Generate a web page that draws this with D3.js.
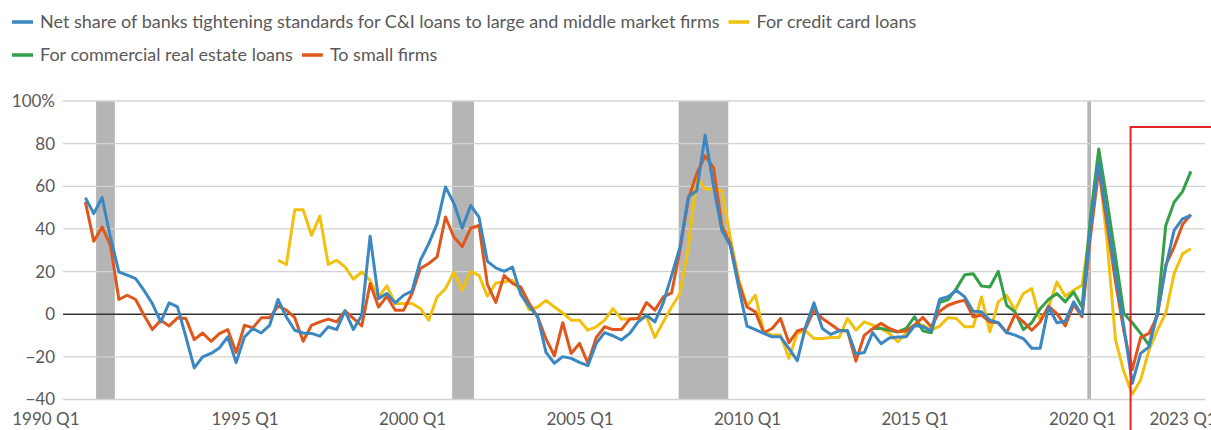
<!DOCTYPE html>
<html>
<head>
<meta charset="utf-8">
<script src="https://cdn.jsdelivr.net/npm/d3@7"></script>
<style>
  html, body { margin: 0; padding: 0; background: #fff; }
  svg { display: block; }
  text { font-family: "Source Sans Pro", Lato, "Noto Sans", sans-serif; fill: #595959; }
</style>
</head>
<body>
<svg id="chart" width="1211" height="430"></svg>
<script>
// ---- Data (net % of banks tightening standards), quarterly ----
const firstQuarter = 1990.25;           // 1990 Q2
const ciLarge = [54.7,47.2,54.7,36,19.8,18.3,16.7,11.2,5,-3.6,5.3,3.4,-10.6,-25.2,-20,-18.4,-15.8,-10.6,-22.7,-10.6,
  -6.7,-8.8,-5.2,6.9,-1.3,-7.5,-8.8,-9,-10.3,-5.9,-7.2,1.6,-7.2,-0.5,36.6,7.3,9.7,5.3,8.9,10.8,
  25.3,33.1,42.5,59.7,52,40.3,51,45.5,24.8,21.7,20.1,22.1,9.2,3.7,-1.2,-17.9,-23,-19.9,-20.7,-22.6,
  -24.1,-13.7,-8.6,-10.1,-12.1,-9,-3.6,-0.5,-3.6,5.3,18.2,31.5,55.1,57.9,84,60.3,39.3,32.2,12.8,-5.6,
  -7.2,-9,-10.6,-10.6,-16,-21.8,-5.9,5.3,-6.7,-9.5,-7.8,-7.8,-18.7,-18,-8.6,-13.8,-11.2,-10.7,-10.6,-5.4,
  -5.8,-7.8,7,8.2,11.2,8.1,1.4,1.1,-2.8,-4,-8.6,-9.8,-11.4,-16,-16,3.4,-4,-3.3,5.8,-0.5,
  40,71.2,45,19,-6,-32.4,-18.4,-15.3,0.3,22.1,39.3,44.7,46.3];
const smallFirms = [52.7,34.2,40.9,32.3,6.9,8.9,6.9,-0.5,-7.2,-2.8,-5.5,-1.7,-2,-11.9,-8.8,-12.7,-9.1,-7.2,-18,-5.2,
  -6.4,-1.7,-1.7,3.8,1.9,-1.6,-12.7,-5.2,-3.6,-2.3,-3.6,1.6,-2,-5.5,14.4,3.4,8.4,1.9,1.9,9.7,
  21.4,23.8,26.9,45.6,36.2,31.7,40.3,41.6,14,5.5,18.2,14.5,12.7,5,-1.2,-11.6,-19.5,-4,-18.4,-13.7,
  -23,-10.9,-5.9,-7.2,-7.2,-2.3,-2,5.5,1.9,8.1,10,30.2,54,66,74.3,68.8,41.6,33,14.8,3.4,
  1.1,-8.7,-6.7,-2,-13.4,-7.9,-6.7,1.9,-2,-4.7,-7.5,-7.8,-22,-9.9,-6.8,-4.3,-6.7,-8.2,-7.9,-5.1,
  -1.5,-5.9,1.4,4.2,5.6,6.6,-1.2,-0.5,-3.6,-4,-8.7,-0.2,-3.6,-7.5,-3.6,3.8,0.3,-5.5,4.6,-1.2,
  36,68,42,15,-8,-26,-11,-9,-0.8,23,31.5,42,46.8];
const creditCardStart = 1996.0;          // 1996 Q1
const creditCard = [25.3,23.3,49,49,37,46,23.3,25.3,22.2,16.4,19.8,15.9,8.1,13.3,5,5,5,2.7,-2.8,8.1,
  12,19.8,11.2,20.1,18.2,8.4,14.6,15.1,15.9,10.4,2,3.4,6.5,3.4,0.6,-2.8,-2.8,-7.5,-5.9,-2.8,
  2.6,-2.3,-2.3,-2,-1.2,-10.9,-3.6,3.4,9.7,31.5,64.2,58.7,58.7,57.9,36.1,16.5,3.7,8.9,-8.3,-9.8,
  -9.8,-20.7,-9,-7.8,-11.4,-11.4,-10.9,-10.9,-2,-7.5,-3.6,-5.1,-6.7,-9,-12.9,-9,-5.1,-5.1,-7.5,-5.6,
  -1.6,-2,-5.9,-5.9,8.1,-8.3,5.8,8.9,1.9,9.7,12,-2.8,3.4,15.1,8.4,11.2,13.6,40,70,34,
  -12,-27,-37.5,-30.8,-16.8,-7.5,0.5,19,28.3,30.7];
const creStart = 2013.75;                // 2013 Q4
const cre = [-6.7,-6.7,-7.5,-8.3,-6.7,-1.2,-7.8,-8.7,5.6,6.7,12,18.5,19,13.2,12.8,20.1,4.2,1.1,-7.2,-4,
  2.6,6.9,9.7,5.8,10.4,3.4,45,77.5,53,27,0.3,-4,-9,-14.5,1,41.6,52.5,57.5,67];

const recessions = [[1990.57, 1991.13], [2001.20, 2001.85], [2007.96, 2009.44], [2020.16, 2020.27]];
const yTicks = [-40, -20, 0, 20, 40, 60, 80, 100];
const xTickYears = [1990, 1995, 2000, 2005, 2010, 2015, 2020, 2023];
const highlightFrom = 2021.45;

const seriesNames = ["Net share of banks tightening standards for C&I loans to large and middle market firms",
  "For credit card loans", "For commercial real estate loans", "To small firms"];
const colors = { ci: "#3b87c2", cc: "#f2c00f", cre: "#35a04a", small: "#e0571b" };

// ---- Scales ----
const svg = d3.select("#chart");
const x = d3.scaleLinear().domain([1990, 2023]).range([77, 1182.5]);
const y = d3.scaleLinear().domain([-40, 100]).range([399.5, 101]);
const gridLeft = 63, gridRight = 1205;

const toPoints = (arr, start) => arr.map((v, i) => ({ t: start + i * 0.25, v }));

// recession bands
svg.append("g").selectAll("rect").data(recessions).join("rect")
  .attr("x", d => x(d[0])).attr("width", d => x(d[1]) - x(d[0]))
  .attr("y", y(100)).attr("height", y(-40) - y(100))
  .attr("fill", "#b5b5b5");

// gridlines
svg.append("g").selectAll("line").data(yTicks.filter(v => v !== 0)).join("line")
  .attr("x1", gridLeft).attr("x2", gridRight)
  .attr("y1", d => y(d)).attr("y2", d => y(d))
  .attr("stroke", "#d3d3d3").attr("stroke-width", 1.3);

// y axis labels
const yAxis = d3.axisLeft(y).tickValues(yTicks).tickSize(0).tickPadding(0)
  .tickFormat(d => d === 100 ? "100%" : (d < 0 ? "\u2212" + Math.abs(d) : String(d)));
const gy = svg.append("g").attr("transform", "translate(55,0)").call(yAxis);
gy.select(".domain").remove();
gy.selectAll("text").attr("font-size", 17).attr("fill", "#595959")
  .style("font-family", '"Source Sans Pro", Lato, sans-serif');

// x axis labels
const xAxis = d3.axisBottom(x).tickValues(xTickYears).tickSize(0).tickPadding(0)
  .tickFormat(d => d + " Q1");
const gx = svg.append("g").attr("transform", "translate(0,413)").call(xAxis);
gx.select(".domain").remove();
gx.selectAll("text").attr("font-size", 17).attr("fill", "#595959")
  .style("font-family", '"Source Sans Pro", Lato, sans-serif');
gx.selectAll(".tick").filter(d => d === 1990).select("text")
  .attr("text-anchor", "end").attr("dx", 2);

// zero line
svg.append("line").attr("x1", gridLeft).attr("x2", gridRight)
  .attr("y1", y(0)).attr("y2", y(0)).attr("stroke", "#333").attr("stroke-width", 1.4);

// lines
const line = d3.line().x(d => x(d.t)).y(d => y(d.v));
const series = [
  { data: toPoints(smallFirms, firstQuarter), color: colors.small },
  { data: toPoints(creditCard, creditCardStart), color: colors.cc },
  { data: toPoints(cre, creStart), color: colors.cre },
  { data: toPoints(ciLarge, firstQuarter), color: colors.ci },
];
// draw order: yellow, green, orange, blue
[series[1], series[2], series[0], series[3]].forEach(s => {
  svg.append("path").datum(s.data).attr("d", line)
    .attr("fill", "none").attr("stroke", s.color).attr("stroke-width", 3)
    .attr("stroke-linejoin", "round");
});

// highlight box
svg.append("rect").attr("x", x(highlightFrom)).attr("y", 127)
  .attr("width", 200).attr("height", 400)
  .attr("fill", "none").attr("stroke", "#e3242b").attr("stroke-width", 2);

// legend
const legendItems = [
  { name: seriesNames[0], color: colors.ci, row: 0 },
  { name: seriesNames[1], color: colors.cc, row: 0 },
  { name: seriesNames[2], color: colors.cre, row: 1 },
  { name: seriesNames[3], color: colors.small, row: 1 },
];
const rowY = [22, 55];
const rowX = [12, 12];
legendItems.forEach(it => {
  const g = svg.append("g");
  const x0 = rowX[it.row];
  g.append("line").attr("x1", x0).attr("x2", x0 + 21)
    .attr("y1", rowY[it.row]).attr("y2", rowY[it.row])
    .attr("stroke", it.color).attr("stroke-width", 3.5);
  const t = g.append("text").attr("x", x0 + 28).attr("y", rowY[it.row])
    .attr("dy", "0.35em").attr("font-size", 18).attr("fill", "#595959").text(it.name);
  rowX[it.row] = x0 + 28 + t.node().getComputedTextLength() + 9;
});
</script>
</body>
</html>
